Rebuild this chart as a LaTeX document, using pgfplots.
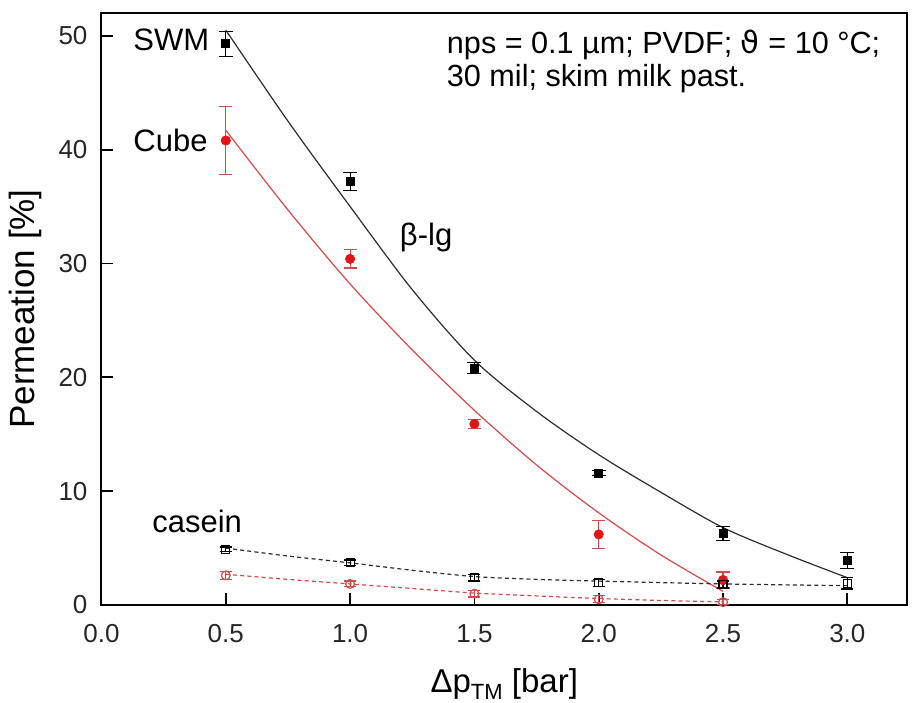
\documentclass[border=0pt]{standalone}
\usepackage{fontspec}
\setmainfont{Liberation Sans}
\newfontfamily\dejavu{DejaVu Sans}
\usepackage{pgfplots}
\pgfplotsset{compat=1.18}
\usetikzlibrary{calc}

\definecolor{fitblack}{RGB}{45,45,45}
\definecolor{fitred}{RGB}{210,75,75}
\definecolor{ptred}{RGB}{228,20,20}

% beta-lg, SWM module
\pgfplotstableread{
x    y     e
0.5  49.3  1.1
1.0  37.2  0.8
1.5  20.8  0.5
2.0  11.6  0.2
2.5  6.3   0.6
3.0  3.9   0.7
}\swmblg
% beta-lg, Cube module
\pgfplotstableread{
x    y     e
0.5  40.8  3.0
1.0  30.4  0.8
1.5  15.9  0.4
2.0  6.2   1.25
2.5  2.2   0.7
}\cubeblg
% casein, SWM
\pgfplotstableread{
x    y     e
0.5  4.9   0.2
1.0  3.7   0.25
1.5  2.4   0.3
2.0  1.95  0.3
2.5  1.8   0.3
3.0  1.9   0.5
}\swmcas
% casein, Cube
\pgfplotstableread{
x    y     e
0.5  2.6   0.35
1.0  1.85  0.25
1.5  1.0   0.3
2.0  0.5   0.3
2.5  0.25  0.2
}\cubecas

\begin{document}
\begin{tikzpicture}
\begin{axis}[
    width=402.75pt, height=296pt, scale only axis,
    xmin=0, xmax=3.24, ymin=0, ymax=52,
    xtick={0,0.5,...,3}, ytick={0,10,...,50},
    tick align=inside, xtick pos=bottom, ytick pos=left,
    major tick length=6pt,
    every tick/.style={black, line width=0.9pt},
    axis line style={line width=1pt},
    /pgf/number format/assume math mode=true,
    tick label style={font=\fontsize{13}{13}\selectfont, text=black!85},
    xticklabel style={anchor=base, yshift=-18.5pt,
        /pgf/number format/.cd, fixed, fixed zerofill, precision=1},
    yticklabel style={anchor=east, xshift=-3.5pt},
    xlabel={Δp\raisebox{-0.45ex}{\fontsize{11}{11}\selectfont TM} [bar]},
    xlabel style={at={(axis description cs:0.5,-0.147)}, anchor=base,
        font=\fontsize{16.5}{16.5}\selectfont},
    ylabel={Permeation [\%]},
    ylabel style={at={(axis description cs:-0.095,0.5)}, anchor=center,
        font=\fontsize{17.5}{17.5}\selectfont},
    error bars/error bar style={line width=0.6pt},
]
% fitted curves
\addplot[fitblack, line width=0.6pt, smooth, no marks] coordinates {
    (0.5,50.5) (0.75,42.5) (1.0,35.0) (1.25,27.7) (1.5,21.5) (1.75,17.0)
    (2.0,13.2) (2.25,9.9) (2.5,6.8) (2.75,4.5) (3.0,2.4)
};
\addplot[fitred, line width=0.6pt, smooth, no marks] coordinates {
    (0.5,41.7) (0.75,34.7) (1.0,28.2) (1.25,22.4) (1.5,17.1) (1.75,12.3)
    (2.0,8.1) (2.25,4.4) (2.5,1.2)
};
\addplot[fitblack, line width=0.6pt, dash pattern=on 2pt off 1.6pt, smooth, no marks] coordinates {
    (0.5,5.0) (0.75,4.3) (1.0,3.7) (1.25,3.05) (1.5,2.5) (1.75,2.25)
    (2.0,2.1) (2.5,1.85) (3.0,1.7)
};
\addplot[fitred, line width=0.6pt, dash pattern=on 2pt off 1.6pt, smooth, no marks] coordinates {
    (0.5,2.7) (0.75,2.25) (1.0,1.85) (1.25,1.45) (1.5,1.05) (1.75,0.8)
    (2.0,0.57) (2.25,0.4) (2.5,0.27)
};
% data points
\addplot[only marks, mark=square*, mark size=2pt, black,
    error bars/.cd, y dir=both, y explicit,
    error mark options={rotate=90, mark size=3.5pt, line width=0.6pt}]
    table[x=x, y=y, y error=e] {\swmblg};
\addplot[only marks, mark=*, mark size=2.3pt, ptred,
    error bars/.cd, y dir=both, y explicit,
    error bar style={fitred},
    error mark options={rotate=90, mark size=3.3pt, line width=0.6pt, fitred}]
    table[x=x, y=y, y error=e] {\cubeblg};
\addplot[only marks, mark=square, mark size=2pt, black, mark options={line width=0.6pt},
    error bars/.cd, y dir=both, y explicit,
    error mark options={rotate=90, mark size=3pt, line width=0.6pt}]
    table[x=x, y=y, y error=e] {\swmcas};
\addplot[only marks, mark=o, mark size=2.2pt, fitred, mark options={line width=0.6pt},
    error bars/.cd, y dir=both, y explicit,
    error mark options={rotate=90, mark size=3pt, line width=0.6pt}]
    table[x=x, y=y, y error=e] {\cubecas};
% annotations
\node[anchor=west, inner sep=0pt, font=\fontsize{15.5}{15.5}\selectfont] at (axis cs:0.127,49.6) {SWM};
\node[anchor=west, inner sep=0pt, font=\fontsize{15.5}{15.5}\selectfont] at (axis cs:0.127,40.8) {Cube};
\node[anchor=west, inner sep=0pt, font=\fontsize{15.5}{15.5}\selectfont] at (axis cs:0.203,7.3) {casein};
\node[anchor=west, inner sep=0pt, font=\fontsize{15.5}{15.5}\selectfont] at (axis cs:1.199,32.3) {β-lg};
\node[anchor=west, inner sep=0pt, font=\fontsize{15.3}{15.3}\selectfont] at (axis cs:1.388,49.2)
    {nps = 0.1 µm; PVDF; {\dejavu ϑ} = 10 °C;};
\node[anchor=west, inner sep=0pt, font=\fontsize{15.3}{15.3}\selectfont] at (axis cs:1.388,46.2)
    {30 mil; skim milk past.};
\end{axis}
\pgfresetboundingbox
\path ($(current axis.south west)+(-50.75pt,-48.5pt)$) rectangle ($(current axis.north east)+(6.5pt,6.5pt)$);
\end{tikzpicture}
\end{document}
